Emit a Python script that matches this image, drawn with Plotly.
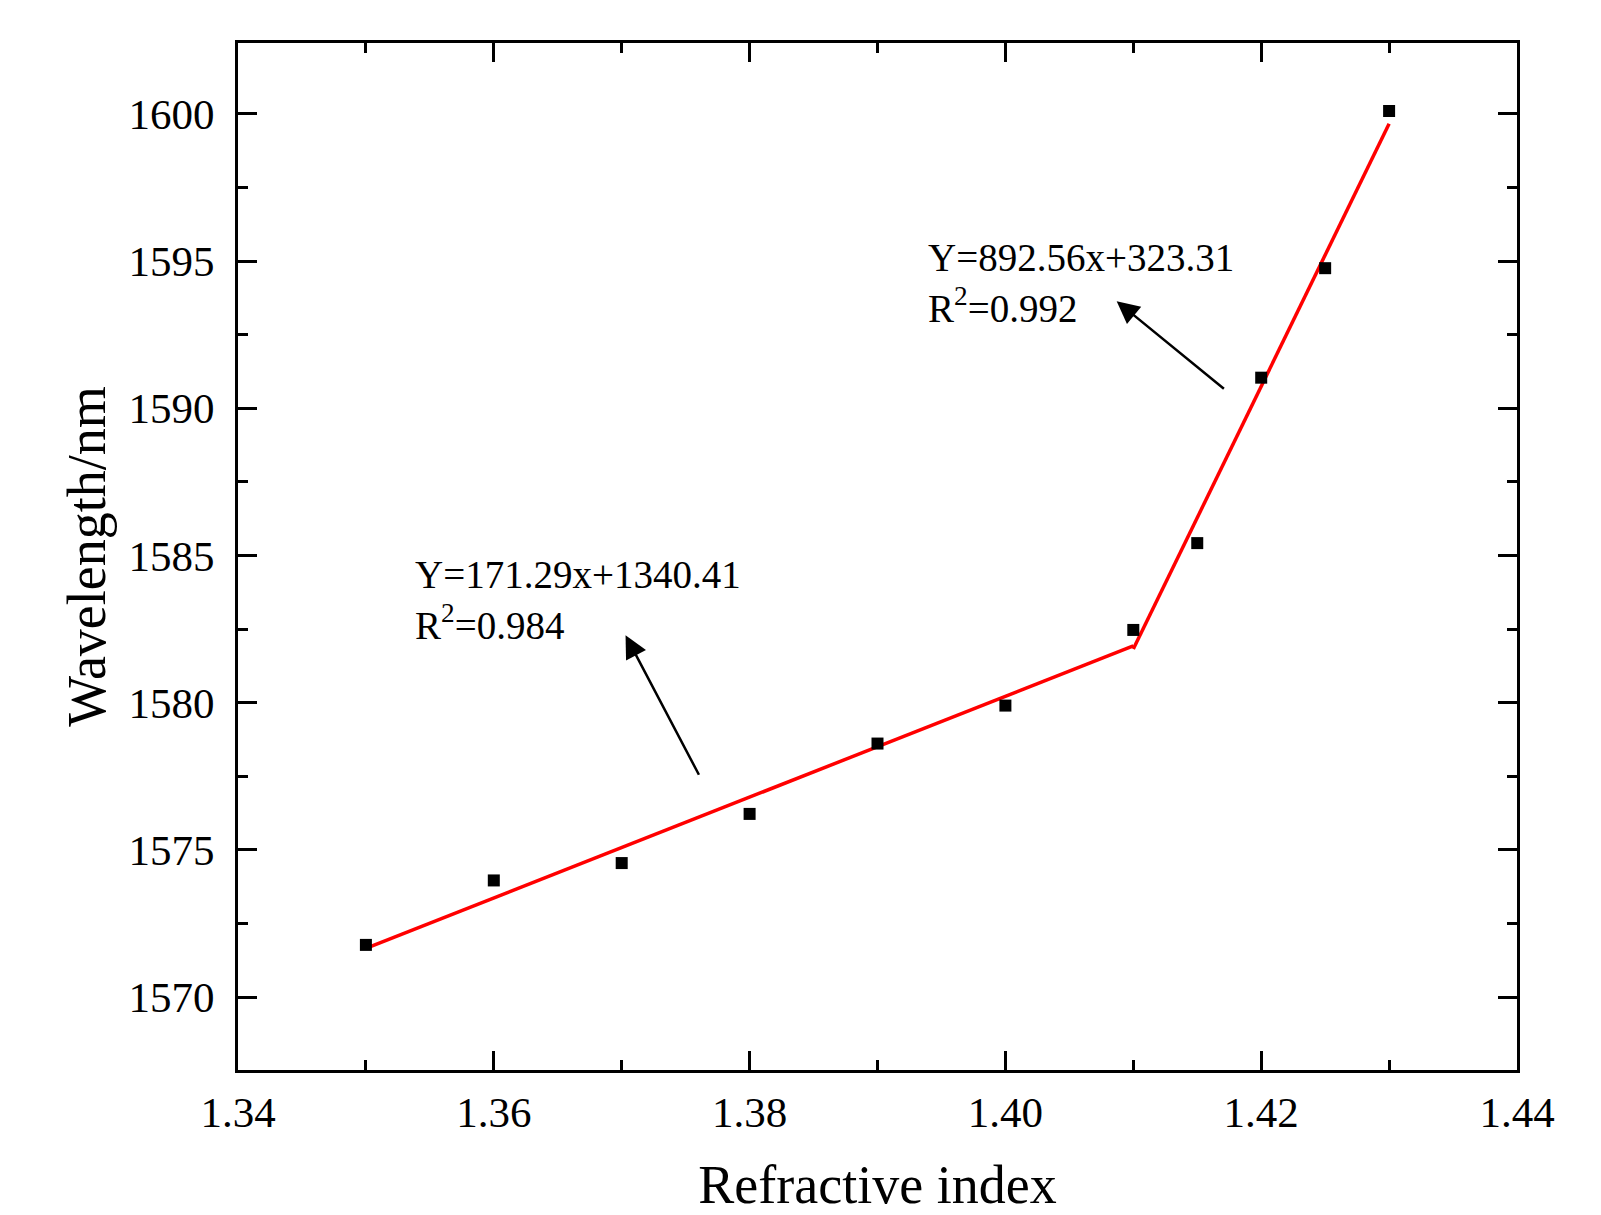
import plotly.graph_objects as go

# Measured data
ri = [1.35, 1.36, 1.37, 1.38, 1.39, 1.40, 1.41, 1.415, 1.42, 1.425, 1.43]
wavelength = [1571.77, 1573.96, 1574.55, 1576.22, 1578.61, 1579.90, 1582.47, 1585.42, 1591.04, 1594.76, 1600.10]

# Linear fit segments (endpoints)
fit1_x = [1.35, 1.41]
fit1_y = [1571.65, 1581.93]
fit2_x = [1.41, 1.43]
fit2_y = [1581.82, 1599.67]

# Annotation texts and anchor points (data coords)
eq1_text = "Y=171.29x+1340.41<br>R<sup>2</sup>=0.984"
eq1_pos = (1.3537, 1583.50)
arrow1_head = (1.3703, 1582.29)
arrow1_tail = (1.3761, 1577.50)

eq2_text = "Y=892.56x+323.31<br>R<sup>2</sup>=0.992"
eq2_pos = (1.3938, 1594.24)
arrow2_head = (1.4087, 1593.64)
arrow2_tail = (1.4172, 1590.62)

x_range = [1.34, 1.44]
y_range = [1567.52, 1602.41]
x_title = "Refractive index"
y_title = "Wavelength/nm"

FONT = "Liberation Serif"

fig = go.Figure()
fig.add_trace(go.Scatter(x=fit1_x, y=fit1_y, mode="lines",
                         line=dict(color="#ff0000", width=3.5), showlegend=False))
fig.add_trace(go.Scatter(x=fit2_x, y=fit2_y, mode="lines",
                         line=dict(color="#ff0000", width=3.5), showlegend=False))
fig.add_trace(go.Scatter(x=ri, y=wavelength, mode="markers",
                         marker=dict(symbol="square", size=12, color="black"),
                         showlegend=False))

axis_common = dict(
    showline=True, linewidth=3, linecolor="black", mirror="ticks",
    ticks="inside", ticklen=19, tickwidth=3, tickcolor="black",
    showgrid=False, zeroline=False, automargin=False,
    tickfont=dict(family=FONT, size=43, color="black"),
)

fig.update_xaxes(range=x_range, dtick=0.02, tick0=1.34, tickformat=".2f",
                 minor=dict(dtick=0.01, tick0=1.34, ticks="inside", ticklen=10,
                            tickwidth=3, tickcolor="black"),
                 title=dict(text=x_title, font=dict(family=FONT, size=54, color="black"),
                            standoff=41),
                 ticklabelstandoff=2,
                 **axis_common)
fig.update_yaxes(range=y_range, dtick=5, tick0=1570,
                 minor=dict(dtick=2.5, tick0=1570, ticks="inside", ticklen=10,
                            tickwidth=3, tickcolor="black"),
                 title=dict(text=y_title, font=dict(family=FONT, size=54, color="black"),
                            standoff=6),
                 ticklabelstandoff=12,
                 **axis_common)

ann_font = dict(family=FONT, size=39, color="black")
annotations = [
    dict(x=eq1_pos[0], y=eq1_pos[1], xref="x", yref="y", text=eq1_text,
         showarrow=False, xanchor="left", yanchor="middle", align="left", font=ann_font),
    dict(x=eq2_pos[0], y=eq2_pos[1], xref="x", yref="y", text=eq2_text,
         showarrow=False, xanchor="left", yanchor="middle", align="left", font=ann_font),
    dict(x=arrow1_head[0], y=arrow1_head[1], ax=arrow1_tail[0], ay=arrow1_tail[1],
         xref="x", yref="y", axref="x", ayref="y", text="", showarrow=True,
         arrowhead=2, arrowsize=1.8, arrowwidth=2.5, arrowcolor="black"),
    dict(x=arrow2_head[0], y=arrow2_head[1], ax=arrow2_tail[0], ay=arrow2_tail[1],
         xref="x", yref="y", axref="x", ayref="y", text="", showarrow=True,
         arrowhead=2, arrowsize=1.8, arrowwidth=2.5, arrowcolor="black"),
]

fig.update_layout(
    width=1601, height=1215,
    margin=dict(l=238, r=84, t=43, b=145),
    plot_bgcolor="white", paper_bgcolor="white",
    annotations=annotations,
    showlegend=False,
)

fig.write_html("out.html")
